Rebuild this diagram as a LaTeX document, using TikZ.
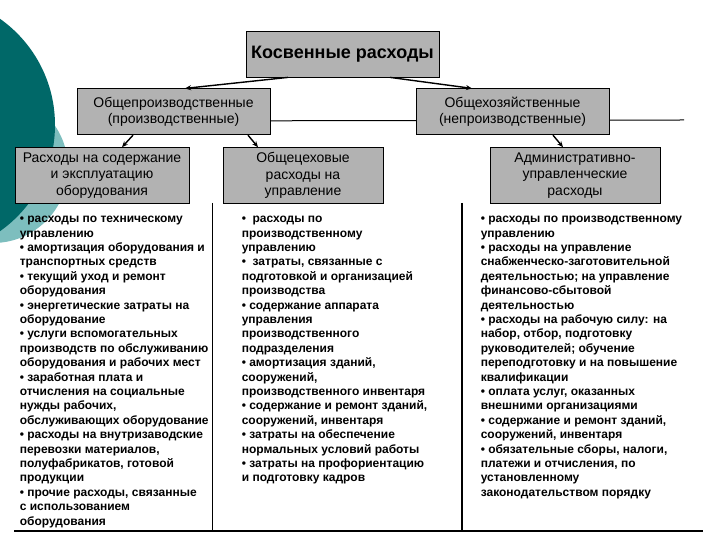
\documentclass[tikz,border=0pt]{standalone}
\usepackage{fontspec}
\setmainfont{Liberation Sans}
\usetikzlibrary{positioning, arrows.meta, backgrounds}
\definecolor{boxgray}{RGB}{178,178,178}
\definecolor{tealdark}{RGB}{0,104,104}
\definecolor{teallight}{RGB}{125,190,190}

\begin{document}
\begin{tikzpicture}[x=1pt, y=1pt, node distance=11pt,
    box/.style={draw, fill=boxgray, line width=0.8pt, align=center, inner sep=2pt, font=\fontsize{14}{16.5}\selectfont},
    list/.style={inner sep=0pt, align=left, font=\bfseries\fontsize{12}{14.4}\selectfont},
    arr/.style={-{Stealth[length=6pt, width=5pt]}, line width=1.4pt},
    rule/.style={line width=1.8pt}]
    \useasboundingbox (0,0) rectangle (720,540);
    \clip (0,0) rectangle (720,540);
    % circles
    \fill[teallight] (-7,372) circle[radius=75pt];
    \fill[tealdark] (-75,415) circle[radius=130pt];

    \node[box, minimum width=193pt, minimum height=46pt, font=\bfseries\fontsize{18}{21}\selectfont] (top) at (342.5,486) {Косвенные расходы};
    \node[box, below=of top, xshift=-169pt, minimum width=193pt, minimum height=46pt] (prod) {Общепроизводственные\\(производственные)};
    \node[box, below=of top, xshift=170pt, minimum width=193pt, minimum height=46pt] (gen) {Общехозяйственные\\(непроизводственные)};
    \node[box, below=12pt of prod, xshift=-71.5pt, minimum width=174pt, minimum height=56pt] (equip) {Расходы на содержание\\и эксплуатацию\\оборудования};
    \node[box, below=12pt of prod, xshift=129.5pt, minimum width=160pt, minimum height=56pt] (shop) {Общецеховые\\расходы на\\управление};
    \node[box, below=12pt of gen, xshift=62.5pt, minimum width=170pt, minimum height=56pt] (admin) {Административно-\\управленческие\\расходы};

    \node[list, below right=12pt and 5pt of equip.south west] (equip_list) {%
        • расходы по техническому\\
        управлению\\
        • амортизация оборудования и\\
        транспортных средств\\
        • текущий уход и ремонт\\
        оборудования\\
        • энергетические затраты на\\
        оборудование\\
        • услуги вспомогательных\\
        производств по обслуживанию\\
        оборудования и рабочих мест\\
        • заработная плата и\\
        отчисления на социальные\\
        нужды рабочих,\\
        обслуживающих оборудование\\
        • расходы на внутризаводские\\
        перевозки материалов,\\
        полуфабрикатов, готовой\\
        продукции\\
        • прочие расходы, связанные\\
        с использованием\\
        оборудования};
    \node[list, below right=12pt and 19pt of shop.south west] (shop_list) {%
        •~ расходы по\\
        производственному\\
        управлению\\
        •~ затраты, связанные с\\
        подготовкой и организацией\\
        производства\\
        • содержание аппарата\\
        управления\\
        производственного\\
        подразделения\\
        • амортизация зданий,\\
        сооружений,\\
        производственного инвентаря\\
        • содержание и ремонт зданий,\\
        сооружений, инвентаря\\
        • затраты на обеспечение\\
        нормальных условий работы\\
        • затраты на профориентацию\\
        и подготовку кадров};
    \node[list, below right=12pt and -9pt of admin.south west] (admin_list) {%
        • расходы по производственному\\
        управлению\\
        • расходы на управление\\
        снабженческо-заготовительной\\
        деятельностью; на управление\\
        финансово-сбытовой\\
        деятельностью\\
        • расходы на рабочую силу: на\\
        набор, отбор, подготовку\\
        руководителей; обучение\\
        переподготовку и на повышение\\
        квалификации\\
        • оплата услуг, оказанных\\
        внешними организациями\\
        • содержание и ремонт зданий,\\
        сооружений, инвентаря\\
        • обязательные сборы, налоги,\\
        платежи и отчисления, по\\
        установленному\\
        законодательством порядку};

    % lines
    \coordinate (hline_end) at (684,420);
    \coordinate (rule_l) at (14,9);
    \coordinate (rule_r) at (703,9);
    \begin{pgfonlayer}{background}
        \draw[line width=1pt] ([yshift=-9pt]prod.east) -- (hline_end);
    \end{pgfonlayer}
    \draw[rule] (212.5,337) -- (212.5,9);
    \draw[rule] (462,337) -- (462,9);
    \draw[line width=2.8pt] (rule_l) -- (rule_r);

    \draw[arr] ([xshift=-54.5pt]top.south) -- ([xshift=11.5pt]prod.north);
    \draw[arr] ([xshift=47.5pt]top.south) -- ([xshift=-40.5pt]gen.north);
    \draw[arr] ([xshift=-40.5pt]prod.south) -- ([xshift=20pt]equip.north);
    \draw[arr] ([xshift=74.5pt]prod.south) -- ([xshift=-45pt]shop.north);
    \draw[arr] ([xshift=40.5pt]gen.south) -- ([xshift=-12pt]admin.north);
\end{tikzpicture}
\end{document}
